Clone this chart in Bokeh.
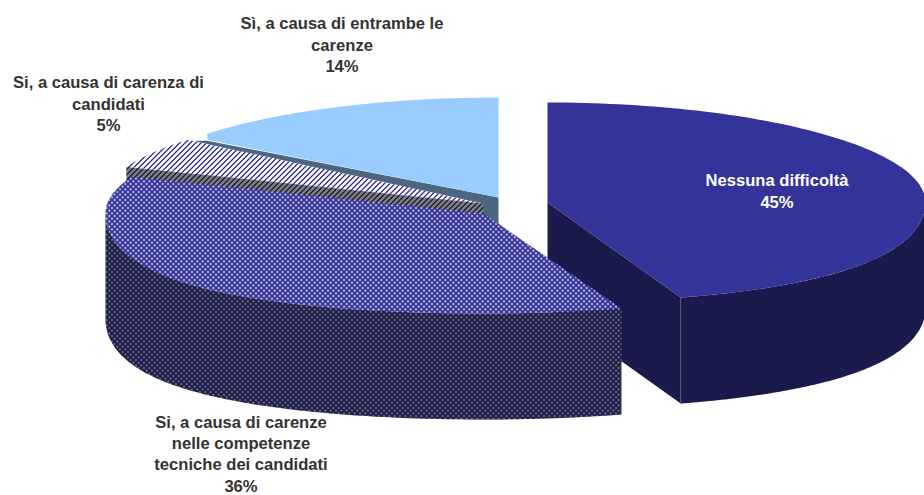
import base64, struct, zlib
import numpy as np
from bokeh.core.properties import value
from bokeh.embed import file_html
from bokeh.models import ImageURLTexture, Range1d
from bokeh.plotting import figure
from bokeh.resources import INLINE

W, H = 924, 495

# data
categories = ["Nessuna difficoltà", "Si, a causa di carenze nelle competenze tecniche dei candidati",
              "Si, a causa di carenza di candidati", "Sì, a causa di entrambe le carenze"]
shares = [45, 36, 5, 14]
label_lines = [["Nessuna difficoltà", "45%"],
               ["Si, a causa di carenze", "nelle competenze", "tecniche dei candidati", "36%"],
               ["Si, a causa di carenza di", "candidati", "5%"],
               ["Sì, a causa di entrambe le", "carenze", "14%"]]
label_pos = [(776.5, 180), (240.5, 422), (108, 82), (341.5, 23)]
label_heights = [21.6, 21.2, 21.6, 21.6]
label_cols = ["#FFFFFF", "#333333", "#333333", "#333333"]
apexes = [(547, 202), (483, 213), (483, 203), (498, 197)]
radii = [378, 378, 384, 378]
near = [0.155, 0.2, 0.0, 0.0]
top_cols = ["#333399", "#333399", "#FFFFFF", "#99CCFF"]
side_cols = ["#1A1A4D", "#1A1A4D", "#808080", "#4D6680"]

RY, DEPTH = 100, 106
FONT = "16.6px"


def png_uri(rgba):
    h, w = rgba.shape[:2]
    raw = b"".join(b"\x00" + rgba[i].tobytes() for i in range(h))
    def chunk(t, d):
        return struct.pack(">I", len(d)) + t + d + struct.pack(">I", zlib.crc32(t + d))
    data = b"\x89PNG\r\n\x1a\n" + chunk(b"IHDR", struct.pack(">IIBBBBB", w, h, 8, 6, 0, 0, 0)) \
        + chunk(b"IDAT", zlib.compress(raw)) + chunk(b"IEND", b"")
    return "data:image/png;base64," + base64.b64encode(data).decode()


def dots_tile(rgb, alpha_max):
    n, per = 16, 16 / 3
    yy, xx = np.mgrid[0:n, 0:n]
    a = np.zeros((n, n))
    for i in range(-1, 8):
        for j in range(-1, 8):
            if (i + j) % 2 == 0:
                cx, cy = i * per / 2, j * per / 2
                d2 = (xx + .5 - cx) ** 2 + (yy + .5 - cy) ** 2
                a = np.maximum(a, np.exp(-d2 / 1.0))
    t = np.zeros((n, n, 4), dtype=np.uint8)
    t[..., :3] = rgb
    t[..., 3] = (a * alpha_max).astype(np.uint8)
    return t


def stripes_tile(rgb):
    n = 16
    per = 16 / 3
    yy, xx = np.mgrid[0:n, 0:n]
    ph = ((xx + yy + 1) % per) / per
    a = np.clip(1.5 - np.abs(ph - .5) * 5.5, 0, 1)
    t = np.zeros((n, n, 4), dtype=np.uint8)
    t[..., :3] = rgb
    t[..., 3] = (a * 255).astype(np.uint8)
    return t


tex = {
    "topdots": ImageURLTexture(url=png_uri(dots_tile((235, 235, 255), 255)), repetition="repeat"),
    "sidedots": ImageURLTexture(url=png_uri(dots_tile((140, 140, 140), 255)), repetition="repeat"),
    "topstripes": ImageURLTexture(url=png_uri(stripes_tile((51, 51, 153))), repetition="repeat"),
    "sidestripes": ImageURLTexture(url=png_uri(stripes_tile((26, 26, 60))), repetition="repeat"),
}

p = figure(width=W, height=H, x_range=Range1d(0, W), y_range=Range1d(H, 0),
           output_backend="svg", toolbar_location=None, min_border=0,
           outline_line_color=None, background_fill_color="white")
p.axis.visible = False
p.grid.visible = False


def rim(i, t, drop=0):
    ax, ay = apexes[i]
    t = np.radians(t)
    f = 1 + near[i] * np.maximum(0, -np.cos(t)) ** 2
    return ax + radii[i] * np.sin(t) * f, ay - RY * np.cos(t) + drop


def arc(i, a, b, drop=0):
    return rim(i, np.linspace(a, b, 120), drop)


edges = np.concatenate([[0], np.cumsum(shares)]) * 3.6


def patch(xs, ys, col, hatch=None):
    kw = dict(fill_color=col, line_color=None)
    if hatch:
        kw.update(hatch_pattern=hatch, hatch_extra=tex)
    p.patch(list(xs), list(ys), **kw)


def top(i, hatch=None):
    x, y = arc(i, edges[i], edges[i + 1])
    ax, ay = apexes[i]
    patch(np.r_[ax, x], np.r_[ay, y], top_cols[i], hatch)


def radial(i, ang, hatch=None):
    ax, ay = apexes[i]
    x, y = rim(i, np.array([ang]))
    patch([ax, x[0], x[0], ax], [ay, y[0], y[0] + DEPTH, ay + DEPTH], side_cols[i], hatch)


def side(i, a, b, hatch=None):
    x, y = arc(i, a, b)
    x2, y2 = arc(i, a, b, DEPTH)
    patch(np.r_[x, x2[::-1]], np.r_[y, y2[::-1]], side_cols[i], hatch)


# slice 14%: its cut edge has a small step where the face meets the rim
ax3, ay3 = apexes[3]
cx3, cy3 = rim(3, np.array([edges[3]]))
cx3, cy3 = cx3[0], cy3[0]
STEP, FACE_OUT = 7, 11
patch([ax3, cx3, cx3 - FACE_OUT, cx3 - FACE_OUT, ax3],
      [ay3, cy3 + STEP, cy3 + STEP, cy3 + STEP + DEPTH, ay3 + DEPTH], side_cols[3])
x3, y3 = arc(3, edges[3], edges[4])
patch(np.r_[ax3, cx3, x3], np.r_[ay3, cy3 + STEP - 1, y3], top_cols[3])
# slice 5%
radial(2, edges[2], "sidestripes")
top(2, "topstripes")
# slice 45%
radial(0, edges[1])
side(0, 90, edges[1])
top(0)
ex, ey = rim(0, np.array([edges[1]]))
p.line([ex[0], ex[0]], [ey[0], ey[0] + DEPTH], line_color="#55557F", line_width=1)
# slice 36%
side(1, edges[1], 270, "sidedots")
top(1, "topdots")

for lines, (lx, ly), lh, col in zip(label_lines, label_pos, label_heights, label_cols):
    ys = [ly + k * lh for k in range(len(lines))]
    p.text([lx] * len(lines), ys, text=lines, text_align="center", text_baseline="middle",
           text_color=col, text_font=value("Liberation Sans"), text_font_style="bold",
           text_font_size=FONT)

open("out.html", "w").write(file_html(p, INLINE))
